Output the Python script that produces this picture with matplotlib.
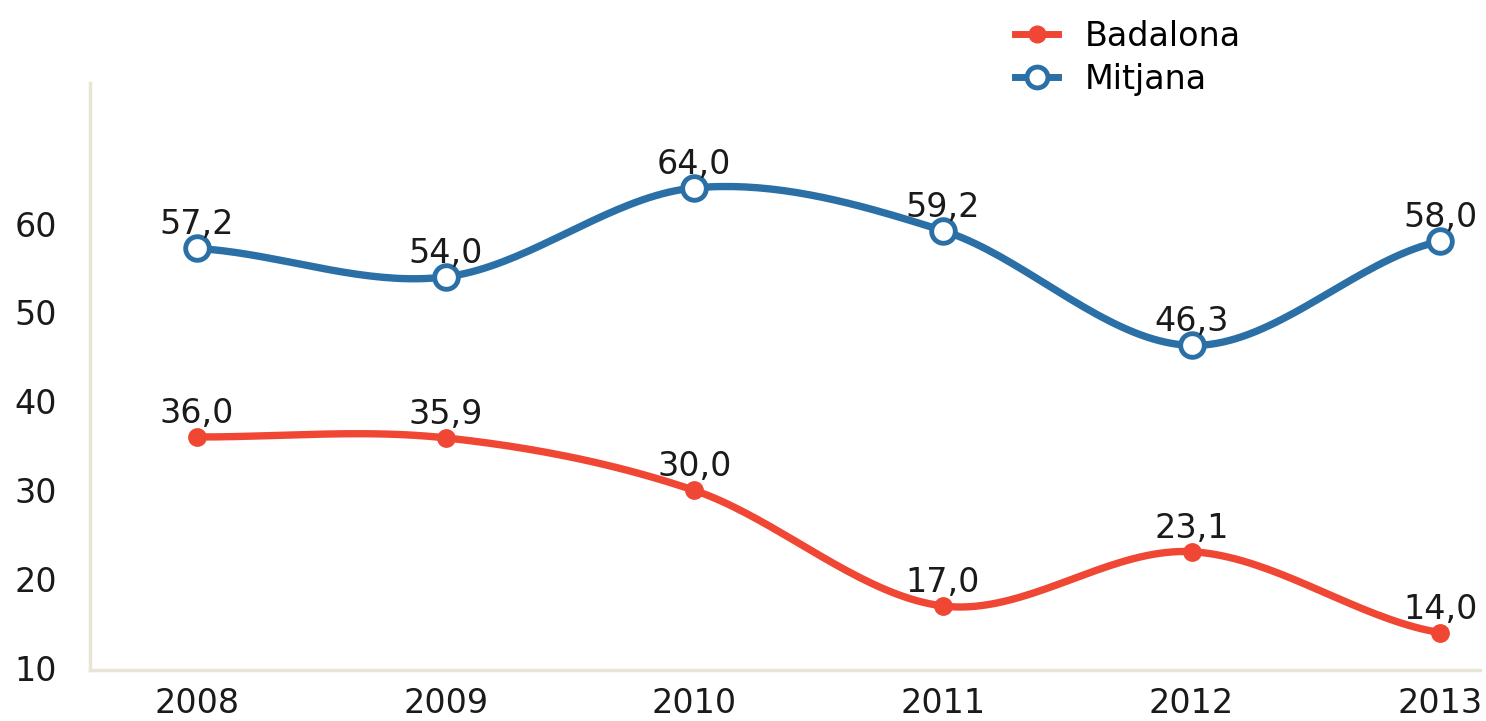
import numpy as np
import matplotlib.pyplot as plt
from matplotlib.lines import Line2D

# Data
years = [2008, 2009, 2010, 2011, 2012, 2013]
badalona = [36.0, 35.9, 30.0, 17.0, 23.1, 14.0]
mitjana = [57.2, 54.0, 64.0, 59.2, 46.3, 58.0]

red = '#f04634'
blue = '#2a70a6'
axis_col = '#e8e4d6'

plt.rcParams['font.family'] = ['DejaVu Sans']


def smooth(x, y, n=40):
    # Catmull-Rom curve through the points (only for drawing the line)
    x = np.asarray(x, float)
    y = np.asarray(y, float)
    px = np.concatenate([[2 * x[0] - x[1]], x, [2 * x[-1] - x[-2]]])
    py = np.concatenate([[y[0]], y, [y[-1]]])
    xs, ys = [], []
    for i in range(1, len(px) - 2):
        t = np.linspace(0, 1, n)
        for p, out in ((px, xs), (py, ys)):
            p0, p1, p2, p3 = p[i - 1], p[i], p[i + 1], p[i + 2]
            out.append(0.5 * ((2 * p1) + (-p0 + p2) * t
                              + (2 * p0 - 5 * p1 + 4 * p2 - p3) * t ** 2
                              + (-p0 + 3 * p1 - 3 * p2 + p3) * t ** 3))
    return np.concatenate(xs), np.concatenate(ys)


fig = plt.figure(figsize=(14.86, 7.21), dpi=100)
ax = fig.add_axes([90 / 1486, 51 / 721, 1390 / 1486, 587 / 721])

bx, by = smooth(years, badalona)
mx, my = smooth(years, mitjana)
ax.plot(bx, by, color=red, lw=5.3, solid_capstyle='round', zorder=3)
ax.plot(years, badalona, 'o', color=red, ms=12.5, zorder=4)
ax.plot(mx, my, color=blue, lw=5.3, solid_capstyle='round', zorder=3)
ax.plot(years, mitjana, 'o', mfc='white', mec=blue, mew=3.5, ms=17, zorder=4)

for x, v in zip(years, badalona):
    ax.annotate(f'{v:.1f}'.replace('.', ','), (x, v), xytext=(0, 17),
                textcoords='offset points', ha='center', va='center',
                fontsize=24, color='#1a1a1a', zorder=5)
for x, v in zip(years, mitjana):
    ax.annotate(f'{v:.1f}'.replace('.', ','), (x, v), xytext=(0, 17),
                textcoords='offset points', ha='center', va='center',
                fontsize=24, color='#1a1a1a', zorder=5)

ax.set_xlim(2007.57, 2013.16)
ax.set_ylim(9.8, 75.8)
ax.set_xticks(years)
ax.set_yticks([10, 20, 30, 40, 50, 60])
ax.tick_params(axis='both', length=0, labelsize=24, colors='#1a1a1a')
ax.tick_params(axis='x', pad=12)
ax.tick_params(axis='y', pad=24)

for s in ['top', 'right']:
    ax.spines[s].set_visible(False)
for s in ['left', 'bottom']:
    ax.spines[s].set_color(axis_col)
    ax.spines[s].set_linewidth(2.5)

handles = [
    Line2D([], [], color=red, lw=5, marker='o', ms=12),
    Line2D([], [], color=blue, lw=5, marker='o', ms=15, mfc='white', mec=blue, mew=3.5),
]
fig.legend(handles, ['Badalona', 'Mitjana'], loc='upper left',
           bbox_to_anchor=(985 / 1486, 1 + 10 / 721), frameon=False,
           fontsize=24, handlelength=1.3, handletextpad=0.8, labelspacing=0.3)

fig.savefig('out.png', dpi=100, facecolor='white')
